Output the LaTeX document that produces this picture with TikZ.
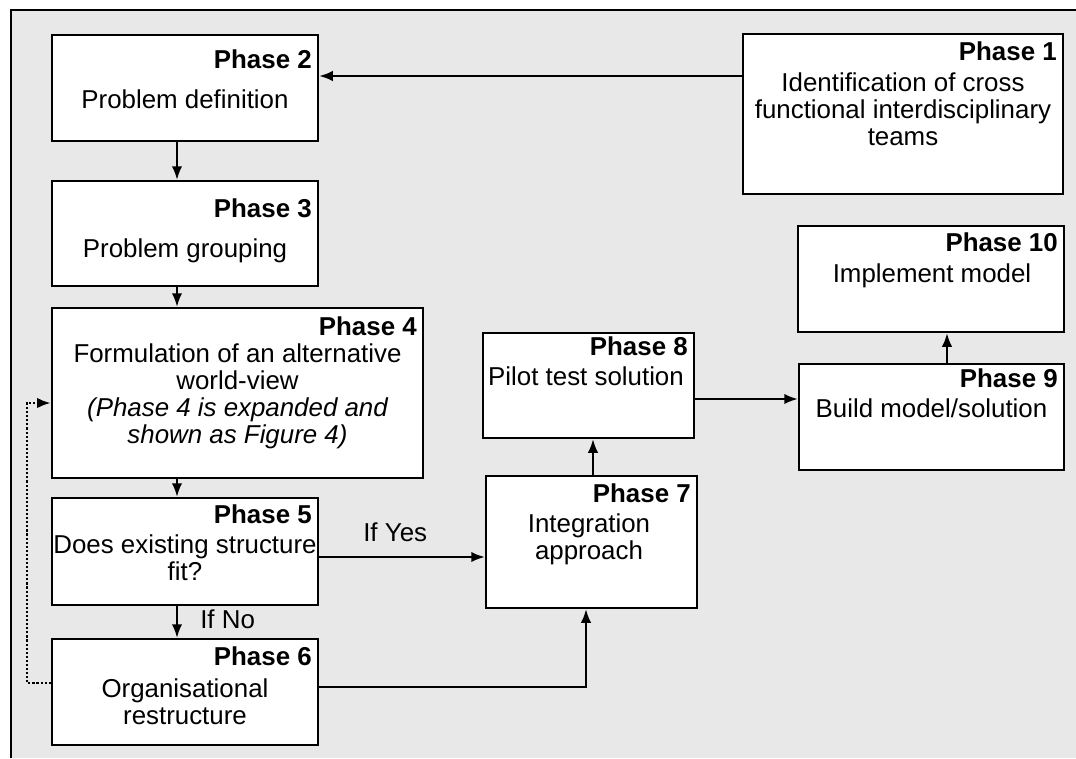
\documentclass[tikz,border=0pt]{standalone}
\usepackage{fontspec}
\setmainfont{Liberation Sans}
\usetikzlibrary{arrows.meta}

\begin{document}
\begin{tikzpicture}[x=0.025cm, y=-0.025cm,
	every node/.style={font=\fontsize{18.4pt}{19.3pt}\selectfont, inner sep=0pt},
	phasebox/.style={draw, fill=white, line width=1.6pt},
	phasename/.style={anchor=base east, font=\fontsize{18.4pt}{19.3pt}\selectfont\bfseries},
	phasetext/.style={anchor=north, align=center},
	flowline/.style={line width=1.5pt, -{Latex[length=0.34cm, width=0.26cm]}},
	feedback/.style={line width=1.9pt, dash pattern=on 1.5pt off 1.4pt, -{Latex[length=0.34cm, width=0.26cm]}}]
	\useasboundingbox (0,0) rectangle (1076,758);
	% background and frame
	\fill[black!9] (11,10) rectangle (1076,758);
	\draw[line width=1.3pt] (11,758) -- (11,10) -- (1076,10);
	% boxes
	\node[phasebox, minimum width=8cm, minimum height=4cm] (p1) at (903,114) {};
	\node[phasebox, minimum width=6.65cm, minimum height=2.65cm] (p2) at (185,88) {};
	\node[phasebox, minimum width=6.65cm, minimum height=2.625cm] (p3) at (185,233.5) {};
	\node[phasebox, minimum width=9.275cm, minimum height=4.25cm] (p4) at (237.5,393) {};
	\node[phasebox, minimum width=6.65cm, minimum height=2.675cm] (p5) at (185,551.5) {};
	\node[phasebox, minimum width=6.65cm, minimum height=2.65cm] (p6) at (185,692) {};
	\node[phasebox, minimum width=5.275cm, minimum height=3.3cm] (p7) at (591.5,542) {};
	\node[phasebox, minimum width=5.275cm, minimum height=2.625cm] (p8) at (588.5,385.5) {};
	\node[phasebox, minimum width=6.625cm, minimum height=2.65cm] (p9) at (931.5,417) {};
	\node[phasebox, minimum width=6.65cm, minimum height=2.65cm] (p10) at (931,279) {};
	% phase names
	\node[phasename] (p1n) at (1057,60) {Phase 1};
	\node[phasename] (p2n) at (312,68) {Phase 2};
	\node[phasename] (p3n) at (312,217) {Phase 3};
	\node[phasename] (p4n) at (417,335) {Phase 4};
	\node[phasename] (p5n) at (312,523) {Phase 5};
	\node[phasename] (p6n) at (312,665) {Phase 6};
	\node[phasename] (p7n) at (691,502) {Phase 7};
	\node[phasename] (p8n) at (688,355) {Phase 8};
	\node[phasename] (p9n) at (1058,387) {Phase 9};
	\node[phasename] (p10n) at (1058,251) {Phase 10};
	% phase texts
	\node[phasetext] (p1t) at (903,72) {Identification of cross\\functional interdisciplinary\\teams};
	\node[phasetext] (p2t) at (185,89) {Problem definition};
	\node[phasetext] (p3t) at (185,238) {Problem grouping};
	\node[phasetext] (p4t) at (237.5,343) {Formulation of an alternative\\world-view\\\itshape (Phase 4 is expanded and\\\itshape shown as Figure 4)};
	\node[phasetext] (p5t) at (185,534) {Does existing structure\\fit?};
	\node[phasetext] (p6t) at (185,678) {Organisational\\restructure};
	\node[phasetext] (p7t) at (589,513) {Integration\\approach};
	\node[phasetext] (p8t) at (586,366) {Pilot test solution};
	\node[phasetext] (p9t) at (931.5,398) {Build model/solution};
	\node[phasetext] (p10t) at (932,263) {Implement model};
	% labels
	\node[anchor=base west] (yeslabel) at (363,541) {If Yes};
	\node[anchor=base west] (nolabel) at (200,628) {If No};
	% connectors
	\coordinate (r1) at (0,76);
	\coordinate (c1) at (177,0);
	\coordinate (yes) at (0,557);
	\coordinate (r6) at (586,687);
	\coordinate (c7) at (593,0);
	\coordinate (r8) at (0,399);
	\coordinate (c9) at (947,0);
	\coordinate (d6) at (27,683);
	\coordinate (d4) at (27,403);
	\draw[flowline] (p1.west |- r1) -- (p2.east |- r1);
	\draw[flowline] (p2.south -| c1) -- (p3.north -| c1);
	\draw[flowline] (p3.south -| c1) -- (p4.north -| c1);
	\draw[flowline] (p4.south -| c1) -- (p5.north -| c1);
	\draw[flowline] (p5.south -| c1) -- (p6.north -| c1);
	\draw[flowline] (p5.east |- yes) -- (p7.west |- yes);
	\draw[flowline] (p6.east |- r6) -| (p7.south -| r6);
	\draw[flowline] (p7.north -| c7) -- (p8.south -| c7);
	\draw[flowline] (p8.east |- r8) -- (p9.west |- r8);
	\draw[flowline] (p9.north -| c9) -- (p10.south -| c9);
	\draw[feedback] (p6.west |- d6) -- (d6) -- (d4) -- (p4.west |- d4);
\end{tikzpicture}
\end{document}
